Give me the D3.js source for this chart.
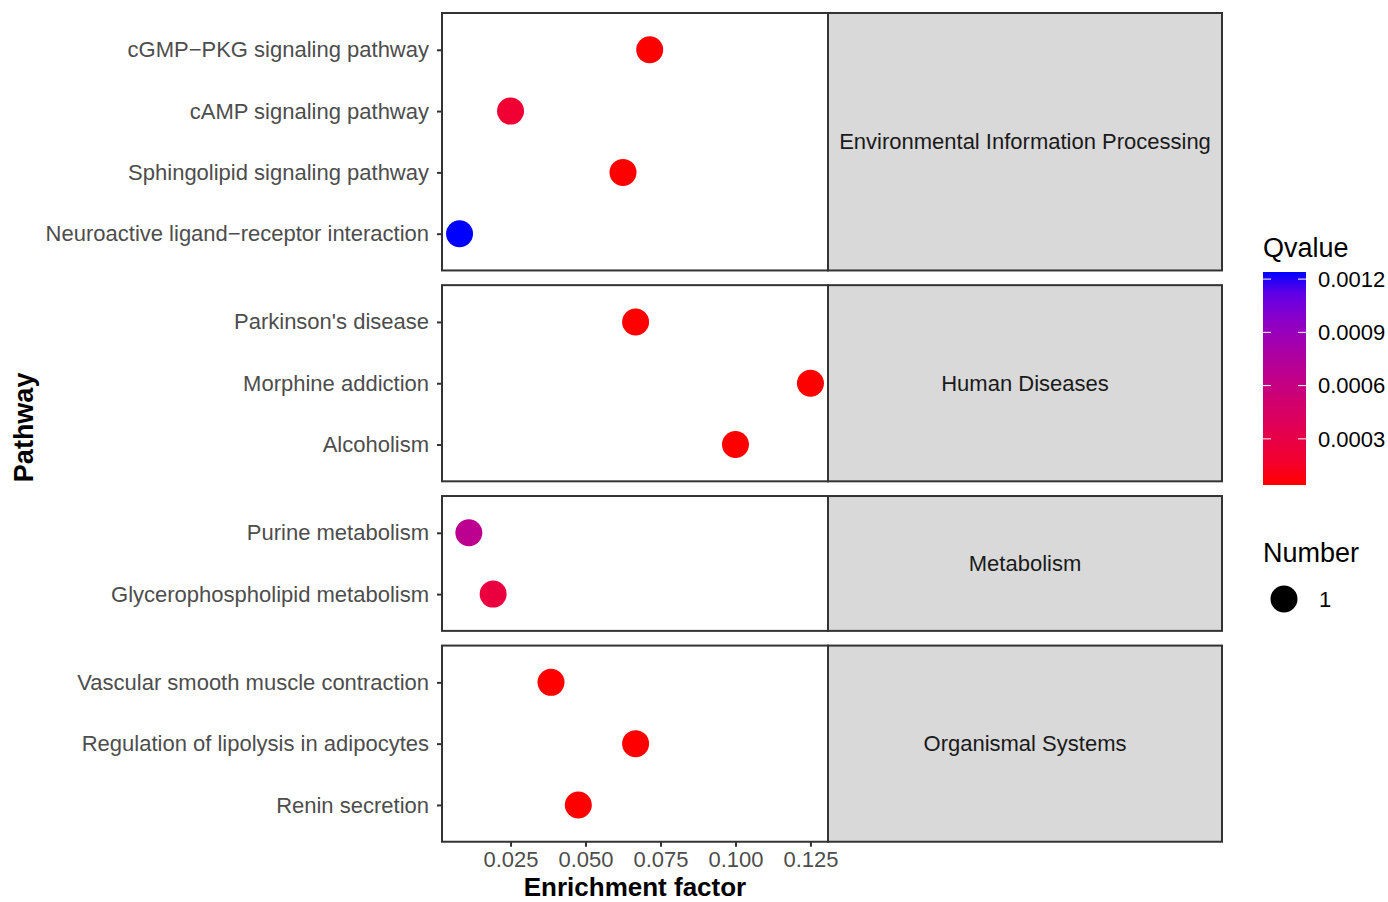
<!DOCTYPE html>
<meta charset="utf-8">
<script src="https://d3js.org/d3.v7.min.js"></script>
<style>
  body { margin: 0; background: #fff; }
  text { font-family: "Liberation Sans", Arial, sans-serif; }
</style>
<div id="my_dataviz"></div>
<script>
// data
var groups = ["Environmental Information Processing", "Human Diseases", "Metabolism", "Organismal Systems"];
var pathways = [
  "cGMP\u2212PKG signaling pathway", "cAMP signaling pathway", "Sphingolipid signaling pathway", "Neuroactive ligand\u2212receptor interaction",
  "Parkinson's disease", "Morphine addiction", "Alcoholism",
  "Purine metabolism", "Glycerophospholipid metabolism",
  "Vascular smooth muscle contraction", "Regulation of lipolysis in adipocytes", "Renin secretion"
];
var pathwayGroup = [0, 0, 0, 0, 1, 1, 1, 2, 2, 3, 3, 3];
var enrichment = [0.0714, 0.025, 0.0625, 0.0080, 0.0667, 0.125, 0.100, 0.0111, 0.0192, 0.0385, 0.0667, 0.0476];
var qvalue = [0.00004, 0.00020, 0.00004, 0.00124, 0.00004, 0.00004, 0.00004, 0.00068, 0.00026, 0.00004, 0.00004, 0.00004];
var number = [1, 1, 1, 1, 1, 1, 1, 1, 1, 1, 1, 1];
var xTicks = [0.025, 0.050, 0.075, 0.100, 0.125];
var qTicks = [0.0003, 0.0006, 0.0009, 0.0012];

var svg = d3.select("#my_dataviz").append("svg")
  .attr("width", 1388).attr("height", 902);

var panelLeft = 442, panelRight = 828, stripRight = 1222;
var top0 = 13, step = 61.3, gap = 14.7;
var labelSize = "22px", titleSize = "27px";

// x scale with ggplot style 5% expansion
var xmin = d3.min(enrichment), xmax = d3.max(enrichment), xr = xmax - xmin;
var x = d3.scaleLinear()
  .domain([xmin - 0.05 * xr, xmax + 0.05 * xr])
  .range([panelLeft, panelRight]);

var qmin = d3.min(qvalue), qmax = d3.max(qvalue);
var color = d3.scaleLinear().domain([qmin, qmax]).range(["red", "blue"]).interpolate(d3.interpolateLab);

var r = 13.5;
var grey = "#333333";

var y0 = top0;
groups.forEach(function(g, gi) {
  var idx = d3.range(pathways.length).filter(i => pathwayGroup[i] === gi);
  var h = step * (idx.length - 1 + 1.2);
  var y = d3.scalePoint().domain(idx.map(i => pathways[i])).range([y0, y0 + h]).padding(0.6);

  // strip
  svg.append("rect").attr("x", panelRight).attr("y", y0).attr("width", stripRight - panelRight).attr("height", h)
    .attr("fill", "#d9d9d9");
  svg.append("text").attr("x", (panelRight + stripRight) / 2).attr("y", y0 + h / 2)
    .attr("text-anchor", "middle").attr("dy", "0.35em")
    .style("font-size", labelSize).attr("fill", "#1a1a1a").text(g);

  // y axis
  var ax = svg.append("g").attr("transform", "translate(" + panelLeft + ",0)")
    .call(d3.axisLeft(y).tickSize(5).tickPadding(8));
  ax.select(".domain").remove();
  ax.selectAll(".tick line").attr("stroke", grey).attr("stroke-width", 2);
  ax.selectAll(".tick text").style("font-size", labelSize).attr("fill", "#4d4d4d")
    .style("font-family", "'Liberation Sans', Arial, sans-serif");

  // points
  svg.append("g").selectAll("circle").data(idx).enter().append("circle")
    .attr("cx", i => x(enrichment[i]))
    .attr("cy", i => y(pathways[i]))
    .attr("r", r)
    .attr("fill", i => color(qvalue[i]));

  // borders
  svg.append("rect").attr("x", panelLeft).attr("y", y0).attr("width", panelRight - panelLeft).attr("height", h)
    .attr("fill", "none").attr("stroke", grey).attr("stroke-width", 2);
  svg.append("rect").attr("x", panelRight).attr("y", y0).attr("width", stripRight - panelRight).attr("height", h)
    .attr("fill", "none").attr("stroke", grey).attr("stroke-width", 2);

  y0 += h + gap;
});
var bottom = y0 - gap;

// x axis
var xa = svg.append("g").attr("transform", "translate(0," + bottom + ")")
  .call(d3.axisBottom(x).tickValues(xTicks).tickFormat(d3.format(".3f")).tickSize(5).tickPadding(5));
xa.select(".domain").remove();
xa.selectAll(".tick line").attr("stroke", grey).attr("stroke-width", 2);
xa.selectAll(".tick text").style("font-size", labelSize).attr("fill", "#4d4d4d")
  .style("font-family", "'Liberation Sans', Arial, sans-serif");

svg.append("text").attr("x", (panelLeft + panelRight) / 2).attr("y", 896)
  .attr("text-anchor", "middle").style("font-size", "26px").style("font-weight", "bold").text("Enrichment factor");
svg.append("text").attr("transform", "translate(33," + ((top0 + bottom) / 2) + ") rotate(-90)")
  .attr("text-anchor", "middle").style("font-size", titleSize).style("font-weight", "bold").text("Pathway");

// Qvalue legend
var legX = 1263, barW = 43, barTop = 272, barBot = 485;
svg.append("text").attr("x", legX).attr("y", 257).style("font-size", titleSize).attr("fill", "#000").text("Qvalue");
var defs = svg.append("defs");
var grad = defs.append("linearGradient").attr("id", "qgrad").attr("x1", 0).attr("y1", 1).attr("x2", 0).attr("y2", 0);
d3.range(0, 1.001, 0.1).forEach(function(t) {
  grad.append("stop").attr("offset", t).attr("stop-color", color(qmin + t * (qmax - qmin)));
});
svg.append("rect").attr("x", legX).attr("y", barTop).attr("width", barW).attr("height", barBot - barTop)
  .attr("fill", "url(#qgrad)");
var qy = d3.scaleLinear().domain([qmin, qmax]).range([barBot, barTop]);
qTicks.forEach(function(t) {
  svg.append("line").attr("x1", legX).attr("x2", legX + 8).attr("y1", qy(t)).attr("y2", qy(t))
    .attr("stroke", "#fff").attr("stroke-width", 1);
  svg.append("line").attr("x1", legX + barW - 8).attr("x2", legX + barW).attr("y1", qy(t)).attr("y2", qy(t))
    .attr("stroke", "#fff").attr("stroke-width", 1);
  svg.append("text").attr("x", legX + barW + 12).attr("y", qy(t)).attr("dy", "0.35em")
    .style("font-size", labelSize).attr("fill", "#000").text(d3.format(".4f")(t));
});

// Number legend
var sizes = Array.from(new Set(number));
svg.append("text").attr("x", legX).attr("y", 562).style("font-size", titleSize).attr("fill", "#000").text("Number");
sizes.forEach(function(s, i) {
  svg.append("circle").attr("cx", 1284).attr("cy", 599 + i * 30).attr("r", r).attr("fill", "#000");
  svg.append("text").attr("x", 1319).attr("y", 599 + i * 30).attr("dy", "0.35em")
    .style("font-size", labelSize).attr("fill", "#000").text(s);
});
</script>
